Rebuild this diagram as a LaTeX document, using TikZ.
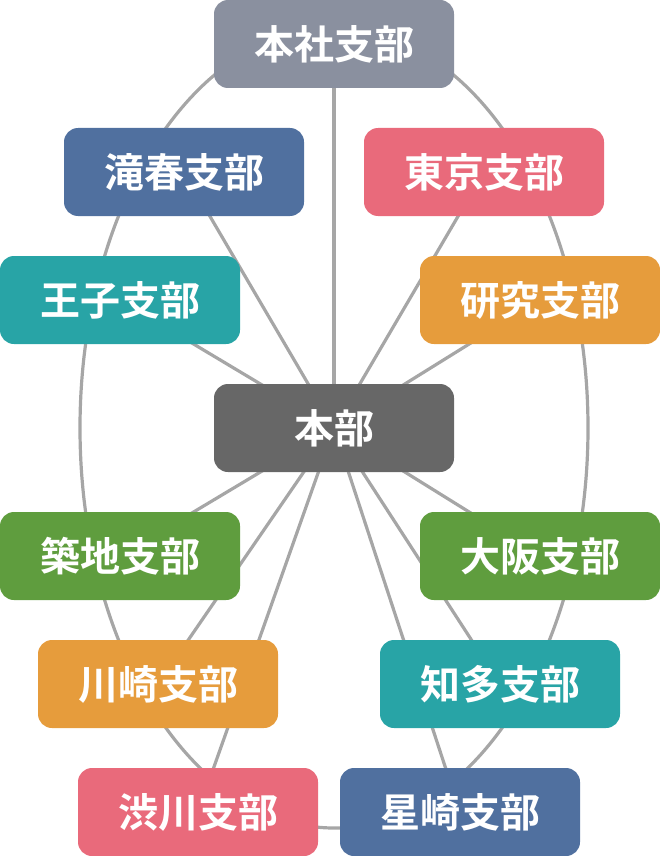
\documentclass[tikz,border=0pt]{standalone}
\usepackage{fontspec}
\setmainfont{Noto Sans CJK JP}[BoldFont={Noto Sans CJK JP Bold}]
\usetikzlibrary{backgrounds}
\definecolor{cHonsha}{HTML}{8A909F}
\definecolor{cBlue}{HTML}{50709F}
\definecolor{cPink}{HTML}{E96A7B}
\definecolor{cTeal}{HTML}{28A4A6}
\definecolor{cOrange}{HTML}{E69C3C}
\definecolor{cDark}{HTML}{676767}
\definecolor{cGreen}{HTML}{5F9D3E}
\definecolor{cLine}{HTML}{A6A6A6}
\begin{document}
\begin{tikzpicture}[x=1pt,y=-1pt,
  branch/.style={rectangle, rounded corners=14pt, minimum width=240pt, minimum height=88pt,
    inner sep=0pt, text=white, font=\fontsize{40}{44}\selectfont\bfseries},
  link/.style={draw=cLine, line width=3.2pt}]
\useasboundingbox (0,0) rectangle (660,856);
\node[branch, fill=cHonsha] (honsha) at (334,44) {本社支部};
\node[branch, fill=cBlue]   (taki)   at (184,172) {滝春支部};
\node[branch, fill=cPink]   (tokyo)  at (484,172) {東京支部};
\node[branch, fill=cTeal]   (oji)    at (120,300) {王子支部};
\node[branch, fill=cOrange] (kenkyu) at (540,300) {研究支部};
\node[branch, fill=cDark]   (honbu)  at (334,428) {本部};
\node[branch, fill=cGreen]  (tsukiji) at (120,556) {築地支部};
\node[branch, fill=cGreen]  (osaka)  at (540,556) {大阪支部};
\node[branch, fill=cOrange] (kawasaki) at (158,684) {川崎支部};
\node[branch, fill=cTeal]   (chita)  at (500,684) {知多支部};
\node[branch, fill=cPink]   (shibu)  at (198,812) {渋川支部};
\node[branch, fill=cBlue]   (hoshi)  at (460,812) {星崎支部};
\coordinate (ringc) at (334,428);
\begin{scope}[on background layer]
  \draw[link] (ringc) ellipse [x radius=254pt, y radius=400pt];
  \foreach \n in {honsha,taki,tokyo,oji,kenkyu,tsukiji,osaka,kawasaki,chita,shibu,hoshi}
    \draw[link] (honbu.center) -- (\n.center);
\end{scope}
\end{tikzpicture}
\end{document}
